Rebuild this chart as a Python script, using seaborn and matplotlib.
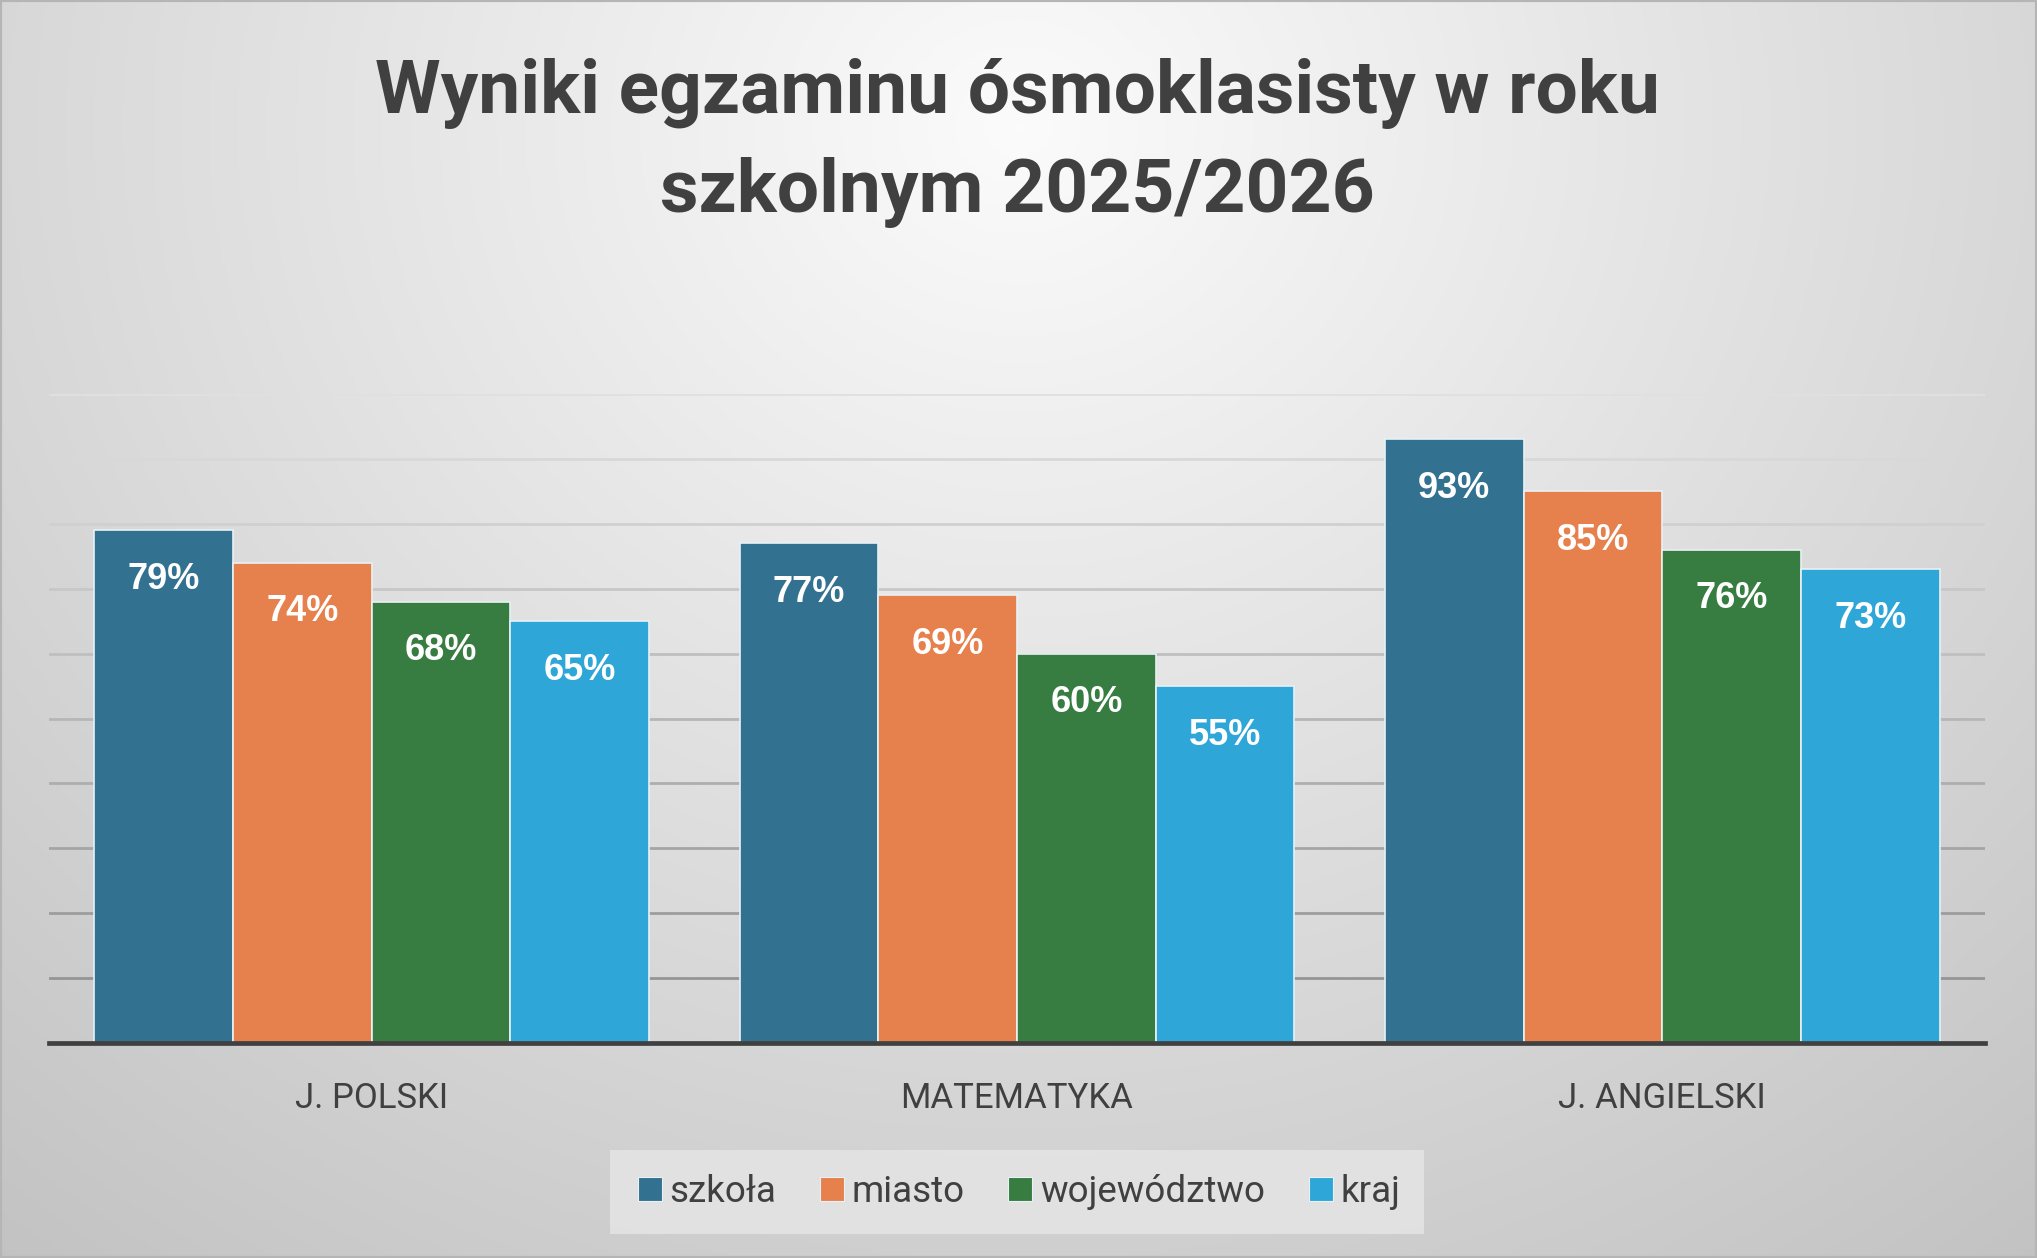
import numpy as np
import pandas as pd
import matplotlib
matplotlib.use("Agg")
import matplotlib.pyplot as plt
import seaborn as sns
from matplotlib.patches import Rectangle
from matplotlib.lines import Line2D

# ---- data ----
subjects = ["J. POLSKI", "MATEMATYKA", "J. ANGIELSKI"]
levels = ["szkoła", "miasto", "województwo", "kraj"]
szkola = [79, 77, 93]
miasto = [74, 69, 85]
wojewodztwo = [68, 60, 76]
kraj = [65, 55, 73]
colors = ["#32718F", "#E6804C", "#377D41", "#2FA6D8"]
title = "Wyniki egzaminu ósmoklasisty w roku\nszkolnym 2025/2026"

series = {"szkoła": szkola, "miasto": miasto, "województwo": wojewodztwo, "kraj": kraj}
rows = []
for lvl in levels:
    for s, v in zip(subjects, series[lvl]):
        rows.append({"przedmiot": s, "poziom": lvl, "wynik": v})
df = pd.DataFrame(rows)

sns.set_theme(style="white")
MAIN = ["Roboto", "DejaVu Sans"]
plt.rcParams["font.family"] = MAIN

W, H = 2037, 1258
fig = plt.figure(figsize=(W / 100, H / 100), dpi=100)

# background radial gradient
bg = fig.add_axes([0, 0, 1, 1], zorder=-10)
yy, xx = np.mgrid[0:1:400j, 0:1:650j]
d = np.sqrt(((xx - 0.5) / 0.9) ** 2 + ((yy - 0.1) / 1.3) ** 2)
v = np.clip(0.985 - 0.25 * d, 0, 1)
bg.imshow(np.dstack([v, v, v]), aspect="auto", extent=[0, 1, 0, 1], origin="upper")
bg.set_axis_off()

ax = fig.add_axes([49 / W, 1 - 1043 / H, (1985 - 49) / W, (1043 - 394) / H])
ax.set_facecolor("none")

sns.barplot(data=df, x="przedmiot", y="wynik", hue="poziom", order=subjects,
            hue_order=levels, palette=colors, saturation=1, width=0.86, gap=0,
            edgecolor="#e8f1f5", linewidth=1.2, ax=ax, legend=False)

for cont in ax.containers:
    ax.bar_label(cont, fmt="%d%%", padding=-48, color="white", fontsize=26,
                 fontweight="bold", family=["Liberation Sans", "DejaVu Sans"])

ax.set_xlim(-0.5, 2.5)
ax.set_ylim(0, 100)
ax.set_yticks(np.arange(0, 101, 10))
ax.set_yticklabels([])
ax.tick_params(axis="y", length=0)
ax.tick_params(axis="x", length=0, pad=28, labelsize=25, labelcolor="#404040")
ax.set_xlabel("")
ax.set_ylabel("")
ax.set_axisbelow(True)
ax.grid(axis="y", linewidth=2.0)
glines = ax.yaxis.get_gridlines()
ticks = ax.get_yticks()
for gl, t in zip(glines, ticks):
    f = t / 100.0
    c = 0.55 + 0.33 * f
    gl.set_color((c, c, c))
for side in ["left", "right", "top"]:
    ax.spines[side].set_visible(False)
ax.spines["bottom"].set_color("#404040")
ax.spines["bottom"].set_linewidth(3.4)
ax.spines["bottom"].set_zorder(5)

ttl = fig.text(1017 / W, 1 - 143 / H, title, ha="center", va="center", fontsize=56,
               fontweight="bold", color="#404040", linespacing=1.52,
               family=MAIN)
# fit title width to the reference width
fig.canvas.draw()
bb = ttl.get_window_extent()
ttl.set_fontsize(56 * 1285 / bb.width)

handles = [Line2D([0], [0], marker="s", linestyle="none", markersize=17,
                  markerfacecolor=c, markeredgecolor="#e8f1f5", markeredgewidth=0.8)
           for c in colors]
leg = fig.legend(handles, levels, loc="center", bbox_to_anchor=(1017 / W, 1 - 1192 / H),
                 ncol=4, frameon=True, fontsize=26.5, handletextpad=0.1,
                 columnspacing=1.1, borderpad=0.65, handlelength=0.85,
                 labelcolor="#404040")
leg.get_frame().set_facecolor("#e6e6e6")
leg.get_frame().set_edgecolor("none")
leg.get_frame().set_alpha(0.8)
leg.get_frame().set_boxstyle("square", pad=0)

fig.patches.append(Rectangle((0, 0), 1, 1, transform=fig.transFigure, fill=False,
                             edgecolor="#b5b5b5", linewidth=3, zorder=20))

fig.savefig("out.png", dpi=100)
